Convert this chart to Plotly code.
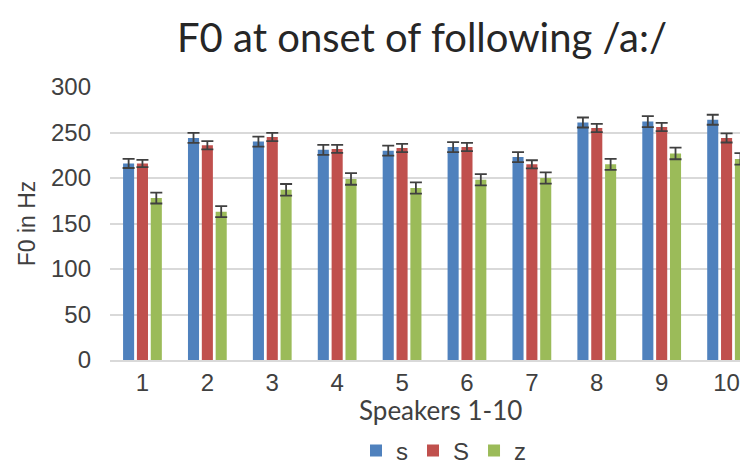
import plotly.graph_objects as go

speakers = ["1", "2", "3", "4", "5", "6", "7", "8", "9", "10"]
s_vals = [216, 244, 240, 231, 230, 234, 223, 261, 262, 264]
s_err = [5, 5.5, 5.5, 5.5, 5.5, 5.5, 5.5, 5.5, 6, 5.5]
S_vals = [216, 236, 245, 232, 233, 234, 215, 255, 256, 244]
S_err = [4, 4.5, 4.5, 4.5, 4.5, 4.5, 4.5, 4.5, 4.5, 5]
z_vals = [178, 163, 187, 199, 189, 198, 200, 215, 227, 221]
z_err = [6, 6, 6.4, 6.4, 6.2, 6.2, 6.2, 6, 6.4, 6.4]

colors = {"s": "#4F81BD", "S": "#C0504D", "z": "#9BBB59"}
x_num = list(range(1, len(speakers) + 1))

# The page body has an 8px default margin, so the figure is drawn 8px in.
W, H = 740, 456

fig = go.Figure()
for name, vals, err in [("s", s_vals, s_err), ("S", S_vals, S_err), ("z", z_vals, z_err)]:
    fig.add_trace(go.Bar(
        x=x_num, y=vals, name=name,
        marker=dict(color=colors[name], line=dict(width=0)),
        error_y=dict(type="data", array=err, visible=True, color="#404040",
                     thickness=1.8, width=6),
    ))

fig.add_annotation(text="Speakers 1-10", xref="paper", yref="paper",
                   x=(432 - 102) / 638, y=-(402 - 352) / 273,
                   xanchor="center", yanchor="middle", showarrow=False,
                   font=dict(family="Lato", size=26, color="#404040"))

fig.update_layout(
    width=W, height=H,
    margin=dict(l=102, r=0, t=79, b=104),
    paper_bgcolor="white", plot_bgcolor="white",
    barmode="group", bargap=0.36, bargroupgap=0.2,
    title=dict(text="F0 at onset of following /a:/", x=414 / W, xanchor="center",
               xref="container", yref="container",
               y=1 - 30 / H, yanchor="middle",
               font=dict(family="Lato", size=40, color="#262626")),
    font=dict(family="Liberation Sans", color="#262626"),
    xaxis=dict(tickmode="array", tickvals=x_num, ticktext=speakers,
               range=[0.5, 10.33], showgrid=False, zeroline=False,
               showline=True, linecolor="#D9D9D9", linewidth=1.5,
               ticks="", automargin=False,
               tickfont=dict(size=24, family="Liberation Sans", color="#404040")),
    yaxis=dict(range=[0, 300], dtick=50, showgrid=True, gridcolor="#D9D9D9",
               gridwidth=1.5, zeroline=False, showline=False, ticks="",
               ticklabelstandoff=18, automargin=False,
               tickfont=dict(size=24, family="Liberation Sans", color="#404040"),
               title=dict(text="F0 in Hz", standoff=8,
                          font=dict(family="Liberation Sans", size=23, color="#404040"))),
    legend=dict(orientation="h", xref="container", yref="container",
                x=436 / W, xanchor="center", y=1 - 443 / H, yanchor="middle",
                font=dict(family="Liberation Sans", size=24, color="#404040"),
                itemwidth=30, traceorder="normal"),
    showlegend=True,
)

fig.write_html("out.html")
